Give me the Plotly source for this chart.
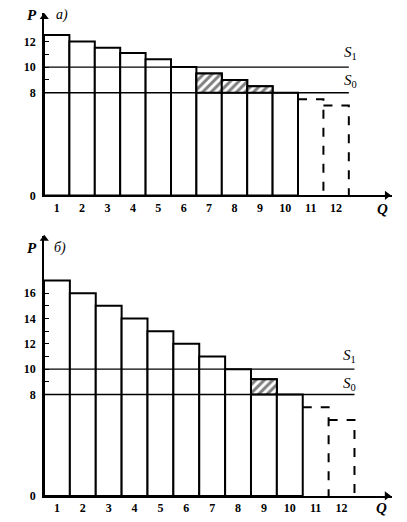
import plotly.graph_objects as go

# quantity units on the horizontal axis
quantity = list(range(1, 13))

# price of each unit, panel а) and panel б)
price_a = [12.5, 12.0, 11.5, 11.1, 10.6, 10.0, 9.5, 9.0, 8.5, 8.0, 7.5, 7.0]
price_b = [17.0, 16.0, 15.0, 14.0, 13.0, 12.0, 11.0, 10.0, 9.2, 8.0, 7.0, 6.0]

# supply levels S0 and S1
supply_a = {'S0': 8, 'S1': 10}
supply_b = {'S0': 8, 'S1': 10}

# units actually sold (the rest are drawn dashed)
sold_units = 10

# y tick labels of both panels
yticks_a = {0: '0', 8: '8', 9: '', 10: '10', 11: '', 12: '12'}
yticks_b = {0: '0', 8: '8', 9: '', 10: '10', 11: '', 12: '12', 13: '', 14: '14', 15: '', 16: '16'}

SERIF = 'Liberation Serif'
W, H = 407, 522
OFF = 8          # page body margin
SY = 530 / 522   # the page is a bit taller than the window
EPS = 0.01


def fx(x):
    # window pixel -> paper x
    return (x - OFF) / W


def fy(y):
    # window pixel -> paper y
    return 1 - (y * SY - OFF) / H


def add_panel(fig, prices, supply, xa, ya, panel_label, geo):
    sold_q = [q for q in quantity if q <= sold_units]
    sold_p = [p for q, p in zip(quantity, prices) if q <= sold_units]

    fig.add_trace(go.Bar(
        x=sold_q, y=sold_p, width=1, xaxis=xa, yaxis=ya,
        marker=dict(color='white', line=dict(color='black', width=2)),
        showlegend=False, hoverinfo='skip'))

    # hatched part between S0 and the bar top
    hq = [q for q, p in zip(sold_q, sold_p) if supply['S0'] < p < supply['S1']]
    hp = [p - supply['S0'] for p in sold_p if supply['S0'] < p < supply['S1']]
    fig.add_trace(go.Bar(
        x=hq, y=hp, base=supply['S0'], width=1, xaxis=xa, yaxis=ya,
        marker=dict(color='white', line=dict(color='black', width=2),
                    pattern=dict(shape='/', fgcolor='black', bgcolor='white',
                                 size=6, solidity=0.5)),
        showlegend=False, hoverinfo='skip'))

    # dashed (unsold) units
    for q, p in zip(quantity, prices):
        if q > sold_units:
            fig.add_trace(go.Scatter(
                x=[q - 0.5, q + 0.5, q + 0.5], y=[p, p, 0], mode='lines',
                xaxis=xa, yaxis=ya, line=dict(color='black', width=2, dash='dash'),
                showlegend=False, hoverinfo='skip'))

    # supply lines
    for name, level in supply.items():
        fig.add_trace(go.Scatter(
            x=[0.5, quantity[-1] + 0.5], y=[level, level], mode='lines',
            xaxis=xa, yaxis=ya, line=dict(color='black', width=1.6 if name == 'S0' else 1.3),
            showlegend=False, hoverinfo='skip'))
        fig.add_annotation(
            x=geo['s_x'], y=level, xref=xa, yref=ya, yshift=geo['s_shift'][name] * SY,
            text='<i>S</i><sub>' + name[1] + '</sub>', showarrow=False,
            xanchor='center', yanchor='middle',
            font=dict(family=SERIF, size=15, color='black'))

    # arrow heads at the ends of the axes
    fig.add_trace(go.Scatter(
        x=[0.5 + EPS], y=[geo['ytop']], mode='markers', xaxis=xa, yaxis=ya,
        marker=dict(symbol='triangle-up', size=8, color='black'),
        cliponaxis=False, showlegend=False, hoverinfo='skip'))
    fig.add_trace(go.Scatter(
        x=[geo['xend']], y=[EPS], mode='markers', xaxis=xa, yaxis=ya,
        marker=dict(symbol='triangle-right', size=8, color='black'),
        cliponaxis=False, showlegend=False, hoverinfo='skip'))

    font_big = dict(family=SERIF, size=15, color='black')
    for pos, text, font in [(geo['p'], '<i><b>P</b></i>', font_big),
                            (geo['lab'], '<i>' + panel_label + '</i>',
                             dict(family=SERIF, size=14, color='black')),
                            (geo['q'], '<i><b>Q</b></i>', font_big)]:
        fig.add_annotation(x=fx(pos[0]), y=fy(pos[1]), xref='paper', yref='paper', text=text,
                           xanchor='center', yanchor='middle', showarrow=False, font=font)


fig = go.Figure()
add_panel(fig, price_a, supply_a, 'x', 'y', 'а)',
          dict(ytop=13.9, xend=14.0, s_x=12.55, s_shift={'S0': 12, 'S1': 14},
               p=(32, 15), lab=(62, 15), q=(382, 209)))
add_panel(fig, price_b, supply_b, 'x2', 'y2', 'б)',
          dict(ytop=20.3, xend=13.75, s_x=12.3, s_shift={'S0': 10, 'S1': 13},
               p=(32, 247), lab=(60, 247), q=(381, 507)))

tick_font = dict(family=SERIF, size=12, color='black', weight='bold')
axis_line = dict(showline=True, linecolor='black', linewidth=1.6)
xaxis_common = dict(axis_line, domain=[fx(44), fx(392)], showgrid=False,
                    zeroline=False, tickmode='array', tickvals=quantity,
                    ticktext=[str(q) for q in quantity], ticks='', tickfont=tick_font)
yaxis_common = dict(axis_line, showgrid=False, zeroline=False, tickmode='array',
                    ticks='inside', ticklen=5, tickwidth=1.3, tickcolor='black',
                    tickfont=tick_font, ticklabelstandoff=4)

fig.update_layout(
    width=W, height=H,
    margin=dict(l=0, r=0, t=0, b=0),
    paper_bgcolor='white', plot_bgcolor='white',
    barmode='overlay',
    xaxis=dict(xaxis_common, range=[0.5, 14.2], anchor='y'),
    yaxis=dict(yaxis_common, domain=[fy(195), fy(13)], range=[0, 14.2],
               tickvals=list(yticks_a), ticktext=list(yticks_a.values()), anchor='x'),
    xaxis2=dict(xaxis_common, range=[0.5, 13.95], anchor='y2'),
    yaxis2=dict(yaxis_common, domain=[fy(495), fy(235)], range=[0, 20.55],
                tickvals=list(yticks_b), ticktext=list(yticks_b.values()), anchor='x2'),
)

fig.write_html("out.html")
